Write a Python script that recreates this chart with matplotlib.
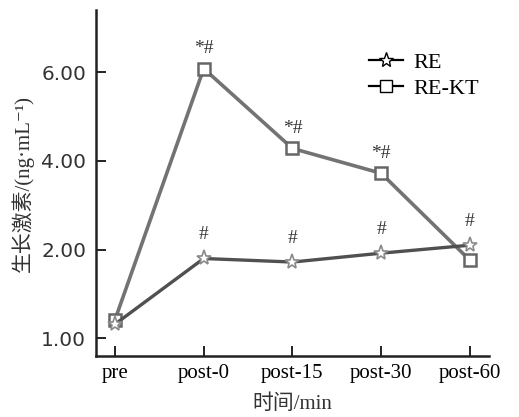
import numpy as np
import matplotlib
matplotlib.use('Agg')
import matplotlib.pyplot as plt
from matplotlib.lines import Line2D

categories = ['pre', 'post-0', 'post-15', 'post-30', 'post-60']
re_vals = [1.16, 1.90, 1.86, 1.96, 2.10]
rekt_vals = [1.21, 6.08, 4.28, 3.72, 1.88]
re_marks = ['', '#', '#', '#', '#']
rekt_marks = ['', '*#', '*#', '*#', '']
yticks = [1, 2, 4, 6]

# the original axis puts 1, 2, 4, 6 at equal steps
vals_k = [0, 1, 2, 4, 6, 8]
pos_k = [-1, 0, 1, 2, 3, 4]

def fwd(v):
    return np.interp(v, vals_k, pos_k)

def inv(p):
    return np.interp(p, pos_k, vals_k)

serif = ['Liberation Serif', 'DejaVu Serif']
cjk = ['Liberation Serif', 'Noto Sans CJK SC', 'DejaVu Sans']

fig = plt.figure(figsize=(5.19, 4.17), dpi=100)
ax = fig.add_axes([0.185, 0.146, 0.757, 0.830])
ax.set_yscale('function', functions=(fwd, inv))

x = np.arange(len(categories))
ax.plot(x, re_vals, color='#505050', lw=2.4, marker='*', ms=11,
        mfc='white', mec='#8a8a8a', mew=1.2, zorder=3)
ax.plot(x, rekt_vals, color='#737373', lw=2.6, marker='s', ms=9,
        mfc='white', mec='#666666', mew=1.8, zorder=2)

for i in range(len(categories)):
    if re_marks[i]:
        ax.annotate(re_marks[i], (x[i], re_vals[i]), xytext=(0, 11),
                    textcoords='offset points', ha='center', va='bottom',
                    fontsize=14, family=serif, color='#333333')
    if rekt_marks[i]:
        ax.annotate(rekt_marks[i], (x[i], rekt_vals[i]), xytext=(0, 8),
                    textcoords='offset points', ha='center', va='bottom',
                    fontsize=14, family=serif, color='#333333')

ax.set_xlim(-0.214, 4.214)
ax.set_ylim(0.8, 7.4)
ax.set_xticks(x)
ax.set_xticklabels(categories, family=serif, fontsize=15)
ax.set_yticks(yticks)
ax.set_yticklabels(['%.2f' % v for v in yticks], family='DejaVu Sans', fontsize=14.5,
                   color='#333333')
ax.minorticks_off()
ax.tick_params(axis='both', direction='in', length=7, width=1.4, color='#222222')
ax.tick_params(axis='x', pad=6)
ax.tick_params(axis='y', pad=7)

for s in ['top', 'right']:
    ax.spines[s].set_visible(False)
for s in ['left', 'bottom']:
    ax.spines[s].set_linewidth(1.8)
    ax.spines[s].set_color('#222222')

ax.set_ylabel('生长激素/(ng·mL⁻¹)', family=cjk, fontsize=15, labelpad=5, color='#333333')
ax.set_xlabel('时间/min', family=cjk, fontsize=15, labelpad=8, color='#333333')

handles = [Line2D([], [], color='black', lw=1.6, marker='*', ms=11, mfc='white', mec='black'),
           Line2D([], [], color='black', lw=1.6, marker='s', ms=8, mfc='white', mec='black')]
ax.legend(handles, ['RE', 'RE-KT'], loc='upper left', bbox_to_anchor=(0.645, 0.935),
          frameon=False, prop={'family': serif, 'size': 16}, handlelength=1.5,
          handletextpad=0.5, labelspacing=0.25)

fig.savefig('out.png', dpi=100)
